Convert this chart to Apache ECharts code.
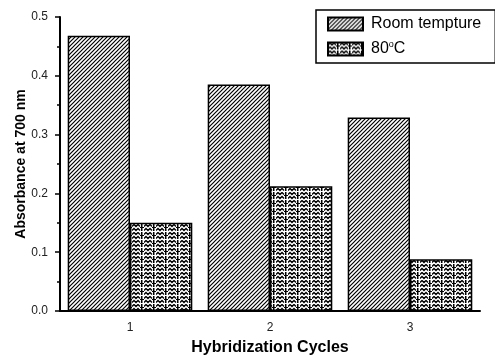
<!DOCTYPE html>
<html><head><meta charset="utf-8">
<script src="https://cdn.jsdelivr.net/npm/echarts@6/dist/echarts.min.js"></script>
<style>html,body{margin:0;padding:0;background:#fff}#c{width:495px;height:355px}</style>
</head><body><div id="c"></div>
<script>
const categories = ['1', '2', '3'];
const roomTemp = [0.468, 0.385, 0.329];
const hot80 = [0.150, 0.212, 0.088];
const yTicks = [0, 0.1, 0.2, 0.3, 0.4, 0.5];

function hatch() {
  const s = 4, c = document.createElement('canvas');
  c.width = s; c.height = s;
  const g = c.getContext('2d');
  g.fillStyle = '#fff'; g.fillRect(0, 0, s, s);
  g.strokeStyle = '#000'; g.lineWidth = 1.2;
  g.beginPath();
  g.moveTo(-1, s + 1); g.lineTo(s + 1, -1);
  g.moveTo(-1, 1); g.lineTo(1, -1);
  g.moveTo(s - 1, s + 1); g.lineTo(s + 1, s - 1);
  g.stroke();
  return c;
}
function wavy() {
  const w = 12, h = 8, c = document.createElement('canvas');
  c.width = w; c.height = h;
  const g = c.getContext('2d');
  g.fillStyle = '#fff'; g.fillRect(0, 0, w, h);
  g.strokeStyle = '#000'; g.lineWidth = 1.4;
  for (const y0 of [1.5, 5.5]) {
    g.beginPath();
    g.moveTo(0, y0 + 1); g.lineTo(2, y0 - 1); g.lineTo(4, y0 + 1); g.lineTo(6, y0 - 1); g.lineTo(8, y0 + 1);
    g.stroke();
  }
  g.fillStyle = '#000';
  g.fillRect(9, 0, 1.5, 3);
  g.fillRect(9, 4, 1.5, 3);
  g.fillRect(8, 3, 4, 1);
  return c;
}

const chart = echarts.init(document.getElementById('c'));
const font = 'Liberation Sans, Arial, sans-serif';
chart.setOption({
  animation: false,
  textStyle: { fontFamily: font },
  grid: { left: 60, right: 15, top: 17, bottom: 44, containLabel: false, outerBoundsMode: 'none' },
  legend: {
    orient: 'vertical', left: 316, top: 10,
    padding: [5, 14, 5, 11], itemGap: 7,
    borderColor: '#000', borderWidth: 1.5,
    itemWidth: 35, itemHeight: 13, icon: 'rect',
    textStyle: { fontSize: 16, lineHeight: 18, color: '#000', fontFamily: font, padding: [0, 0, 0, 3],
      rich: { sup: { fontSize: 9, lineHeight: 18, verticalAlign: 'top', padding: [0, 0, 8, 0], fontFamily: font, color: '#000' } } },
    formatter: n => n === '80C' ? '80{sup|o}C' : n,
    data: ['Room tempture', '80C']
  },
  xAxis: [{
    type: 'category', data: categories, boundaryGap: true,
    name: 'Hybridization Cycles', nameLocation: 'middle', nameGap: 29, nameMoveOverlap: false,
    nameTextStyle: { fontWeight: 'bold', fontSize: 16, color: '#000', fontFamily: font },
    axisLine: { lineStyle: { color: '#000', width: 2 } },
    axisTick: { alignWithLabel: true, length: 5, lineStyle: { color: '#000', width: 1.5 } },
    axisLabel: { color: '#222', fontSize: 12, margin: 11, fontFamily: font }
  }, {
    type: 'category', data: categories, boundaryGap: true, position: 'bottom',
    axisLine: { show: false },
    axisTick: { length: 3, lineStyle: { color: '#000', width: 1.5 } },
    axisLabel: { show: false }
  }],
  yAxis: {
    type: 'value', min: 0, max: 0.5, interval: 0.1,
    name: 'Absorbance at 700 nm', nameLocation: 'middle', nameGap: 32, nameMoveOverlap: false,
    nameTextStyle: { fontWeight: 'bold', fontSize: 14, color: '#000', fontFamily: font },
    axisLine: { show: true, lineStyle: { color: '#000', width: 2 } },
    axisTick: { show: true, length: 5, lineStyle: { color: '#000', width: 1.5 } },
    minorTick: { show: true, splitNumber: 2, length: 3, lineStyle: { color: '#000', width: 1.5 } },
    splitLine: { show: false },
    axisLabel: { color: '#222', fontSize: 12, margin: 12, fontFamily: font,
      formatter: v => yTicks.some(t => Math.abs(t - v) < 1e-9) ? v.toFixed(1) : '' }
  },
  series: [{
    name: 'Room tempture', type: 'bar', data: roomTemp,
    barGap: '0%', barCategoryGap: '11%',
    itemStyle: { color: { image: hatch(), repeat: 'repeat' }, borderColor: '#000', borderWidth: 1.5 }
  }, {
    name: '80C', type: 'bar', data: hot80,
    itemStyle: { color: { image: wavy(), repeat: 'repeat' }, borderColor: '#000', borderWidth: 1.5 }
  }]
});
</script></body></html>
